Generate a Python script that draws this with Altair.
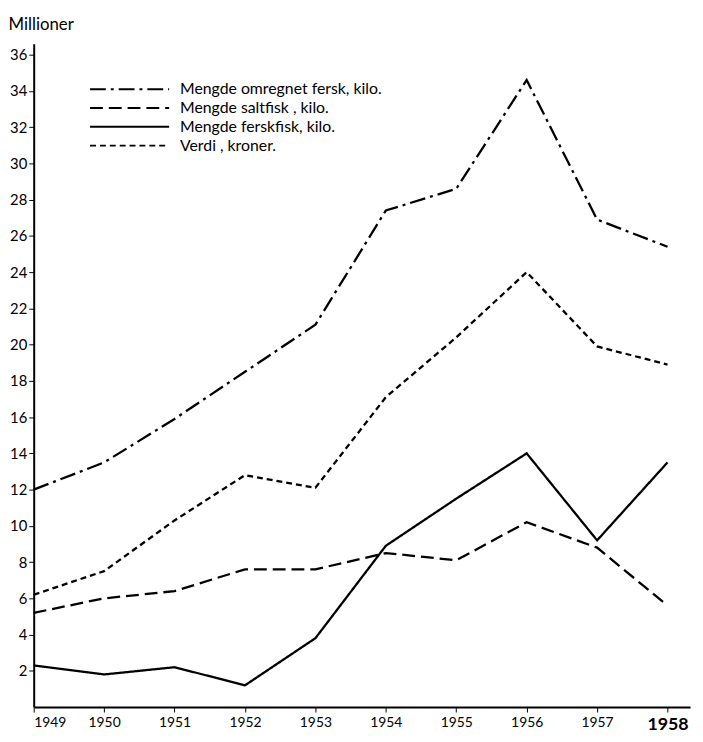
import altair as alt
import pandas as pd

years = [1949, 1950, 1951, 1952, 1953, 1954, 1955, 1956, 1957, 1958]
series_names = [
    "Mengde omregnet fersk, kilo.",
    "Mengde saltfisk , kilo.",
    "Mengde ferskfisk, kilo.",
    "Verdi , kroner.",
]
omregnet = [12.0, 13.5, 15.9, 18.5, 21.1, 27.4, 28.6, 34.6, 26.9, 25.4]
saltfisk = [5.2, 6.0, 6.4, 7.6, 7.6, 8.5, 8.1, 10.2, 8.8, 5.6]
ferskfisk = [2.3, 1.8, 2.2, 1.2, 3.8, 8.9, 11.5, 14.0, 9.2, 13.5]
verdi = [6.2, 7.5, 10.3, 12.8, 12.1, 17.1, 20.4, 24.0, 19.9, 18.9]
y_ticks = list(range(2, 37, 2))

rows = []
for name, vals in zip(series_names, [omregnet, saltfisk, ferskfisk, verdi]):
    for yr, v in zip(years, vals):
        rows.append({"Aar": yr, "Verdi": v, "Serie": name})
df = pd.DataFrame(rows)

FONT = "Lato"
dashes = [[16, 5, 3, 5], [13, 6], [1, 0], [6, 4]]

chart = (
    alt.Chart(df)
    .mark_line(color="black", strokeWidth=2.3)
    .encode(
        x=alt.X(
            "Aar:Q",
            scale=alt.Scale(domain=[1949, 1958.32], nice=False, zero=False),
            axis=alt.Axis(
                values=years,
                format="d",
                title=None,
                grid=False,
                domainColor="black",
                domainWidth=2,
                tickColor="black",
                tickSize=5,
                labelFont=FONT,
                labelColor="black",
                labelPadding=4,
                labelFontSize=alt.expr("datum.value == 1958 ? 18 : 14"),
                labelFontWeight=alt.expr("datum.value == 1958 ? 'bold' : 'normal'"),
            ),
        ),
        y=alt.Y(
            "Verdi:Q",
            scale=alt.Scale(domain=[0, 36.6], nice=False),
            axis=alt.Axis(
                values=y_ticks,
                title="Millioner",
                titleAngle=0,
                titleAlign="left",
                titleBaseline="alphabetic",
                titleX=-26,
                titleY=-14,
                titleFont=FONT,
                titleFontSize=17,
                titleFontWeight="normal",
                titleColor="black",
                grid=False,
                domainColor="black",
                domainWidth=2,
                tickColor="black",
                tickSize=5,
                labelFont=FONT,
                labelFontSize=15,
                labelColor="black",
                labelPadding=2,
            ),
        ),
        strokeDash=alt.StrokeDash(
            "Serie:N",
            scale=alt.Scale(domain=series_names, range=dashes),
            legend=alt.Legend(
                title=None,
                orient="none",
                legendX=56,
                legendY=38,
                symbolType="stroke",
                symbolSize=6400,
                symbolStrokeWidth=2,
                symbolStrokeColor="black",
                clipHeight=16,
                labelFont=FONT,
                labelFontSize=16,
                labelColor="black",
                labelOffset=10,
                labelLimit=400,
                rowPadding=3,
                padding=0,
            ),
        ),
        detail="Serie:N",
    )
    .properties(
        width=664,
        height=671,
        autosize=alt.AutoSizeParams(type="none"),
        padding={"left": 26, "top": 32, "right": 5, "bottom": 22},
    )
    .configure_view(stroke=None)
)

chart.save("out.html", embed_options={"renderer": "svg", "actions": False})
